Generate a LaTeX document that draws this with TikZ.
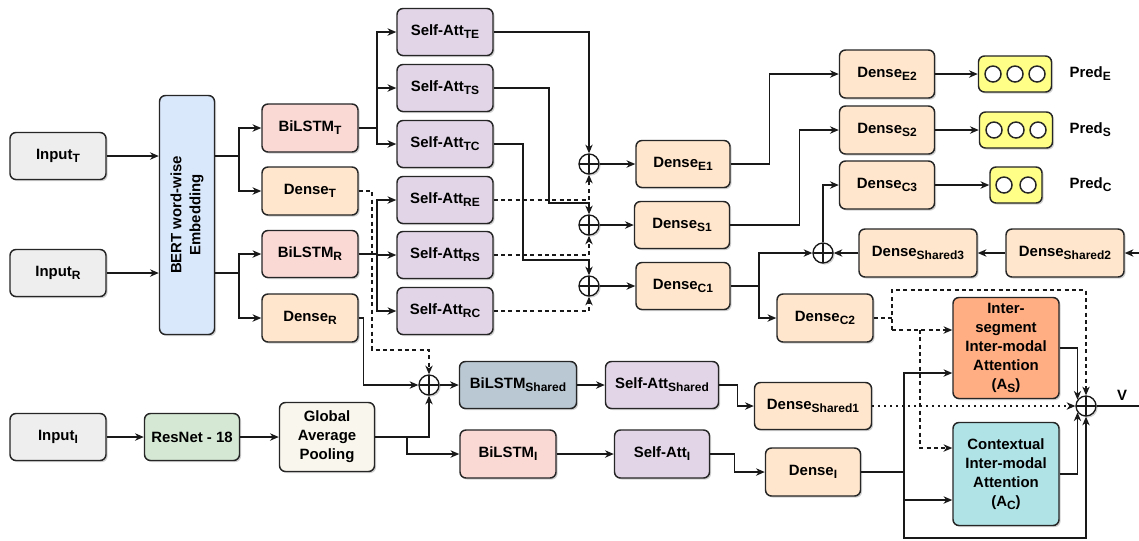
\documentclass[tikz,border=0pt]{standalone}
\usepackage{fontspec}
\setmainfont{Liberation Sans}
\usetikzlibrary{arrows.meta,shadows,calc}
\newcommand{\sbs}[1]{\raisebox{-0.4ex}{\fontsize{9}{9}\selectfont #1}}
\definecolor{cinp}{HTML}{EEEEEE}
\definecolor{cbert}{HTML}{DAE8FC}
\definecolor{clstm}{HTML}{FAD9D5}
\definecolor{cdense}{HTML}{FFE6CC}
\definecolor{catt}{HTML}{E1D5E7}
\definecolor{cshl}{HTML}{BAC8D3}
\definecolor{cres}{HTML}{D5E8D4}
\definecolor{cgap}{HTML}{F9F7ED}
\definecolor{cpred}{HTML}{FFFF88}
\definecolor{cas}{HTML}{FFAE84}
\definecolor{cac}{HTML}{B0E3E6}
\begin{document}
\begin{tikzpicture}[x=0.75pt,y=-0.75pt,
  shd/.style={drop shadow={shadow xshift=1.2pt,shadow yshift=-1.2pt,opacity=0.3,fill=black!60}},
  box/.style={draw=black!85, line width=1.1pt, rounded corners=4.5pt, align=center, inner sep=1pt,
    font=\fontsize{11.2}{14.3}\selectfont\bfseries, shd},
  sz/.style 2 args={minimum width=#1*0.75pt, minimum height=#2*0.75pt},
  inp/.style={box, fill=cinp},
  bertb/.style={box, fill=cbert},
  lstm/.style={box, fill=clstm},
  dense/.style={box, fill=cdense},
  att/.style={box, fill=catt},
  shl/.style={box, fill=cshl},
  resb/.style={box, fill=cres},
  gapb/.style={box, fill=cgap},
  predb/.style={box, fill=cpred},
  asb/.style={box, fill=cas},
  acb/.style={box, fill=cac},
  circ/.style={draw=black!85, line width=1.1pt, fill=white},
  lbl/.style={font=\fontsize{11.2}{14.3}\selectfont\bfseries, inner sep=1pt},
  plus/.style={circle, draw=black!90, fill=white, line width=1pt, minimum size=20*0.75pt, inner sep=0pt, shd,
    path picture={\draw[line width=1pt] (path picture bounding box.north) -- (path picture bounding box.south)
      (path picture bounding box.west) -- (path picture bounding box.east);}},
  ln/.style={line width=1pt, draw=black!90},
  arr/.style={ln, -{Stealth[length=6.5pt,width=5.5pt,inset=2pt]}},
  dsh/.style={dash pattern=on 3pt off 2.5pt},
  dot/.style={dash pattern=on 1pt off 3.5pt}
]
\path[fill=white, use as bounding box] (0,0) rectangle (1139,540);

% inputs and embedding
\node[inp,sz={96}{47}] (inT) at (58,156) {Input\sbs{T}};
\node[inp,sz={96}{47}] (inR) at (58,273) {Input\sbs{R}};
\node[inp,sz={96}{47}] (inI) at (58,437) {Input\sbs{I}};
\node[bertb,sz={55}{239}] (bert) at (187,215) {\rotatebox{90}{\begin{tabular}{@{}c@{}}BERT word-wise\\Embedding\end{tabular}}};

\node[lstm,sz={96}{48}] (bT) at (310,128) {BiLSTM\sbs{T}};
\node[dense,sz={96}{48}] (dT) at (310,191) {Dense\sbs{T}};
\node[lstm,sz={96}{47}] (bR) at (310,254) {BiLSTM\sbs{R}};
\node[dense,sz={96}{48}] (dR) at (310,318) {Dense\sbs{R}};

% self attention
\node[att,sz={96}{47}] (saTE) at (445,32) {Self-Att\sbs{TE}};
\node[att,sz={96}{47}] (saTS) at (445,88) {Self-Att\sbs{TS}};
\node[att,sz={96}{47}] (saTC) at (445,144) {Self-Att\sbs{TC}};
\node[att,sz={96}{47}] (saRE) at (445,200) {Self-Att\sbs{RE}};
\node[att,sz={96}{47}] (saRS) at (445,255) {Self-Att\sbs{RS}};
\node[att,sz={96}{47}] (saRC) at (445,311) {Self-Att\sbs{RC}};

\node[plus] (p1) at (589,164) {};
\node[plus] (p2) at (589,225) {};
\node[plus] (p3) at (589,286) {};

\node[dense,sz={94}{47}] (dE1) at (683,164) {Dense\sbs{E1}};
\node[dense,sz={95}{47}] (dS1) at (682,225) {Dense\sbs{S1}};
\node[dense,sz={94}{47}] (dC1) at (683,286) {Dense\sbs{C1}};

\node[dense,sz={95}{48}] (dE2) at (887,74) {Dense\sbs{E2}};
\node[dense,sz={95}{48}] (dS2) at (887,130) {Dense\sbs{S2}};
\node[dense,sz={95}{48}] (dC3) at (887,185) {Dense\sbs{C3}};

\node[predb,sz={73}{36}] (prE) at (1015,74) {};
\node[predb,sz={73}{36}] (prS) at (1016,130) {};
\node[predb,sz={52}{36}] (prC) at (1016,185) {};
\foreach \dx in {-22,0,22} {
  \draw[circ] ($(prE)+(\dx,0)$) circle[radius=8];
  \draw[circ] ($(prS)+(\dx,0)$) circle[radius=8];
}
\foreach \dx in {-12,12} \draw[circ] ($(prC)+(\dx,0)$) circle[radius=8];
\node[lbl,anchor=west] (lE) at (1068,74) {Pred\sbs{E}};
\node[lbl,anchor=west] (lS) at (1068,130) {Pred\sbs{S}};
\node[lbl,anchor=west] (lC) at (1068,185) {Pred\sbs{C}};

\node[plus] (p4) at (823,253) {};
\node[dense,sz={118}{48}] (dSh3) at (918,253) {Dense\sbs{Shared3}};
\node[dense,sz={118}{48}] (dSh2) at (1065,253) {Dense\sbs{Shared2}};
\node[dense,sz={96}{48}] (dC2) at (825,318) {Dense\sbs{C2}};

\node[asb,sz={106}{101}] (As) at (1006,348) {Inter-\\segment\\Inter-modal\\Attention\\(A\sbs{S})};
\node[acb,sz={106}{103}] (Ac) at (1006,474) {Contextual\\Inter-modal\\Attention\\(A\sbs{C})};
\node[plus] (p5) at (1086,406) {};
\node[lbl] (vl) at (1122,395) {V};

% image branch and shared
\node[resb,sz={95}{47}] (res) at (192,437) {ResNet - 18};
\node[gapb,sz={95}{69}] (gap) at (327,437) {Global\\Average\\Pooling};
\node[plus] (p6) at (429,385) {};
\node[shl,sz={117}{47}] (bSh) at (518,385) {BiLSTM\sbs{Shared}};
\node[att,sz={113}{47}] (saSh) at (662,385) {Self-Att\sbs{Shared}};
\node[dense,sz={117}{47}] (dSh1) at (813,406) {Dense\sbs{Shared1}};
\node[lstm,sz={96}{48}] (bI) at (508,454) {BiLSTM\sbs{I}};
\node[att,sz={95}{48}] (saI) at (662,454) {Self-Att\sbs{I}};
\node[dense,sz={95}{48}] (dI) at (813,472) {Dense\sbs{I}};

% coordinates
\coordinate (jT) at (239,156);
\coordinate (jR) at (239,273);
\coordinate (jbT) at (377,128);
\coordinate (jbR) at (377,254);
\coordinate (jC) at (759,286);
\coordinate (ext) at (1139,253);
\coordinate (k0) at (892,290);
\coordinate (k1) at (892,318);
\coordinate (k2) at (892,330);
\coordinate (k3) at (920,330);
\coordinate (m0) at (904,472);
\coordinate (m1) at (904,538);
\coordinate (vout) at (1139,406);
\coordinate (g1) at (407,437);

% connectors
\draw[arr] (inT.east) -- (inT.east -| bert.west);
\draw[arr] (inR.east) -- (inR.east -| bert.west);
\draw[ln] (bert.east |- jT) -- (jT);
\draw[arr] (jT) |- (bT.west);
\draw[arr] (jT) |- (dT.west);
\draw[ln] (bert.east |- jR) -- (jR);
\draw[arr] (jR) |- (bR.west);
\draw[arr] (jR) |- (dR.west);

\draw[ln] (bT.east) -- (jbT);
\draw[arr] (jbT) |- (saTE.west);
\draw[arr] (jbT) |- (saTS.west);
\draw[arr] (jbT) |- (saTC.west);
\draw[ln] (bR.east) -- (jbR);
\draw[arr] (jbR) |- (saRE.west);
\draw[arr] (jbR) |- (saRS.west);
\draw[arr] (jbR) |- (saRC.west);

\draw[arr] (saTE.east) -| (p1.north);
\draw[arr] (saTS.east) -| (549,203) -| (p2.north);
\draw[arr] (saTC.east) -| (523,260) -| (p3.north);
\draw[arr,dsh] (saRE.east) -| (p1.south);
\draw[arr,dsh] (saRS.east) -| (p2.south);
\draw[arr,dsh] (saRC.east) -| (p3.south);

\draw[arr] (p1.east) -- (dE1.west);
\draw[arr] (p2.east) -- (dS1.west);
\draw[arr] (p3.east) -- (dC1.west);

\draw[arr] (dE1.east) -- ++(39,0) |- (dE2.west);
\draw[arr] (dS1.east) -- ++(69,0) |- (dS2.west);
\draw[ln] (dC1.east) -- (jC);
\draw[arr] (jC) |- (p4.west);
\draw[arr] (jC) |- (dC2.west);
\draw[arr] (p4.north) |- (dC3.west);
\draw[arr] (dSh3.west) -- (p4.east);
\draw[arr] (dSh2.west) -- (dSh3.east);
\draw[arr] (ext) -- (dSh2.east);

\draw[arr] (dE2.east) -- (prE.west);
\draw[arr] (dS2.east) -- (prS.west);
\draw[arr] (dC3.east) -- (prC.west);

\draw[ln,dsh] (dC2.east) -- (k1);
\draw[arr,dsh] (k2) -- (k0) -| (p5.north);
\draw[arr,dsh] (k2) -- (k2 -| As.west);
\draw[arr,dsh] (k3) |- ($(Ac.west)+(0,-26)$);

\draw[ln] (dI.east) -- (m0);
\draw[arr] (m0) |- ($(As.west)+(0,25)$);
\draw[arr] (m0) |- ($(Ac.west)+(0,26)$);
\draw[arr] (m0) -- (m1) -| (p5.south);
\draw[arr] (As.east) -| (p5.143);
\draw[arr] (Ac.east) -| (p5.217);
\draw[arr,dot] (dSh1.east) -- (p5.west);
\draw[ln] (p5.east) -- (vout);

\draw[arr,dsh] (dT.east) -| (372,350) -| (p6.north);
\draw[arr] (dR.east) -- ++(5,0) |- (p6.west);
\draw[arr] (inI.east) -- (res.west);
\draw[arr] (res.east) -- (gap.west);
\draw[arr] (gap.east) -| (p6.south);
\draw[arr] (g1) |- (bI.west);
\draw[arr] (p6.east) -- (bSh.west);
\draw[arr] (bSh.east) -- (saSh.west);
\draw[arr] (saSh.east) -- ++(18,0) |- (dSh1.west);
\draw[arr] (bI.east) -- (saI.west);
\draw[arr] (saI.east) -- ++(24,0) |- (dI.west);
\end{tikzpicture}
\end{document}
